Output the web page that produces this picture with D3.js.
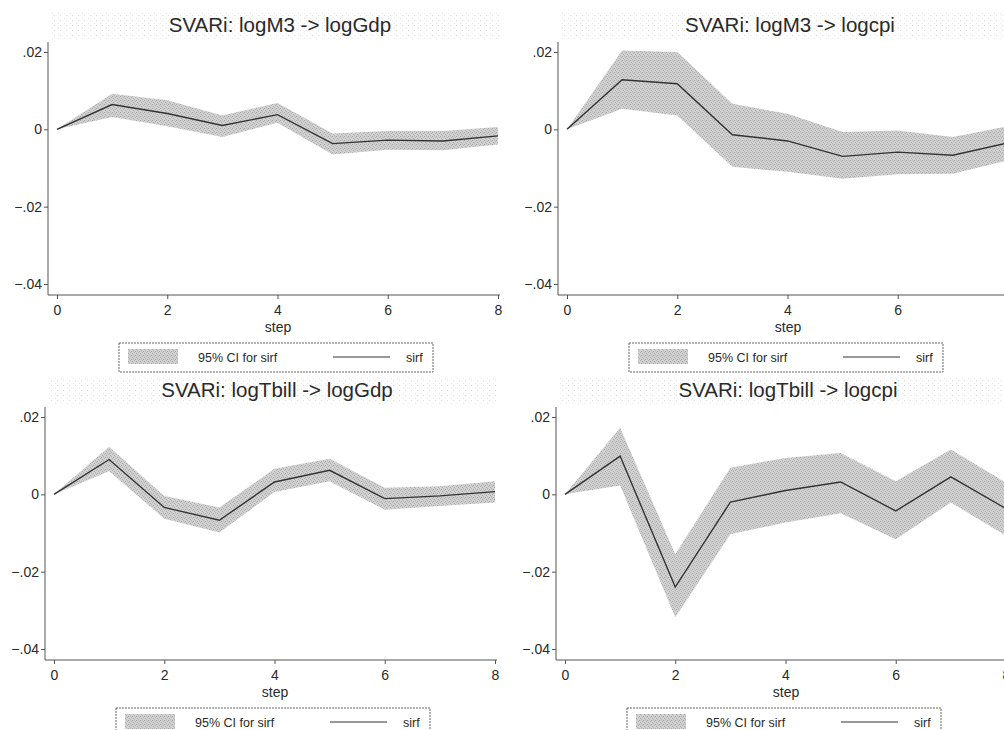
<!DOCTYPE html>
<html>
<head>
<meta charset="utf-8">
<script src="https://cdn.jsdelivr.net/npm/d3@7"></script>
<style>
  body { margin: 0; background: #fff; }
  text { font-family: "Liberation Sans", Arial, sans-serif; fill: #2a2a2a; }
</style>
</head>
<body>
<div id="chart"></div>
<script>
// irf data
const steps = [0, 1, 2, 3, 4, 5, 6, 7, 8];
const yTicks = [0.02, 0, -0.02, -0.04];
const xTicks = [0, 2, 4, 6, 8];
const titles = ["SVARi: logM3 -> logGdp", "SVARi: logM3 -> logcpi",
                "SVARi: logTbill -> logGdp", "SVARi: logTbill -> logcpi"];

const m3GdpIrf = [0, 0.0064, 0.0041, 0.0010, 0.0038, -0.0037, -0.0028, -0.0030, -0.0017];
const m3GdpLo  = [0, 0.0032, 0.0008, -0.0020, 0.0017, -0.0065, -0.0053, -0.0054, -0.0039];
const m3GdpHi  = [0, 0.0092, 0.0075, 0.0036, 0.0068, -0.0011, -0.0004, -0.0004, 0.0006];

const m3CpiIrf = [0, 0.0128, 0.0118, -0.0014, -0.0030, -0.0070, -0.0059, -0.0067, -0.0035];
const m3CpiLo  = [0, 0.0053, 0.0036, -0.0097, -0.0110, -0.0128, -0.0116, -0.0115, -0.0080];
const m3CpiHi  = [0, 0.0204, 0.0200, 0.0066, 0.0040, -0.0007, -0.0003, -0.0020, 0.0008];

const tbGdpIrf = [0, 0.0090, -0.0034, -0.0067, 0.0032, 0.0062, -0.0011, -0.0004, 0.0007];
const tbGdpLo  = [0, 0.0060, -0.0063, -0.0099, 0.0006, 0.0034, -0.0040, -0.0030, -0.0021];
const tbGdpHi  = [0, 0.0123, -0.0004, -0.0034, 0.0066, 0.0092, 0.0017, 0.0021, 0.0034];

const tbCpiIrf = [0, 0.0099, -0.0240, -0.0020, 0.0010, 0.0032, -0.0043, 0.0045, -0.0037];
const tbCpiLo  = [0, 0.0023, -0.0318, -0.0103, -0.0073, -0.0049, -0.0116, -0.0021, -0.0107];
const tbCpiHi  = [0, 0.0172, -0.0155, 0.0069, 0.0094, 0.0107, 0.0034, 0.0116, 0.0030];

const panels = [
  { ox: 0,   oy: 0,   title: titles[0], irf: m3GdpIrf, lo: m3GdpLo, hi: m3GdpHi },
  { ox: 510, oy: 0,   title: titles[1], irf: m3CpiIrf, lo: m3CpiLo, hi: m3CpiHi },
  { ox: -3,  oy: 365, title: titles[2], irf: tbGdpIrf, lo: tbGdpLo, hi: tbGdpHi },
  { ox: 508, oy: 365, title: titles[3], irf: tbCpiIrf, lo: tbCpiLo, hi: tbCpiHi }
];

const width = 1004, height = 730;

const svg = d3.select("#chart").append("svg")
  .attr("width", width)
  .attr("height", height)
  .style("display", "block");

svg.append("rect").attr("width", width).attr("height", height).attr("fill", "#fff");

// stipple patterns (scanned look)
const defs = svg.append("defs");
const band = defs.append("pattern").attr("id", "stip")
  .attr("width", 4).attr("height", 4).attr("patternUnits", "userSpaceOnUse");
band.append("rect").attr("width", 4).attr("height", 4).attr("fill", "#d2d2d2");
[[0, 0, "#a4a4a4"], [3, 1, "#b2b2b2"], [1, 2, "#aaaaaa"], [2, 3, "#b8b8b8"], [2, 0, "#c4c4c4"]]
  .forEach(d => band.append("rect").attr("x", d[0]).attr("y", d[1])
    .attr("width", 1).attr("height", 1).attr("fill", d[2]));

const faint = defs.append("pattern").attr("id", "faint")
  .attr("width", 6).attr("height", 5).attr("patternUnits", "userSpaceOnUse");
faint.append("rect").attr("width", 6).attr("height", 5).attr("fill", "#fff");
faint.append("rect").attr("width", 1).attr("height", 1).attr("fill", "#dedede");
faint.append("rect").attr("x", 4).attr("y", 3).attr("width", 1).attr("height", 1).attr("fill", "#e8e8e8");

panels.forEach(p => {
  const g = svg.append("g").attr("transform", `translate(${p.ox},${p.oy})`);

  const x = d3.scaleLinear().domain([0, 8]).range([57, 498]);
  const y = d3.scaleLinear().domain([-0.04, 0.02]).range([284, 52]);

  // title band + title
  g.append("rect").attr("x", 50).attr("y", 13).attr("width", 452).attr("height", 27)
    .attr("fill", "url(#faint)");
  g.append("text")
    .attr("x", 280).attr("y", 32)
    .attr("text-anchor", "middle")
    .style("font-size", "20.5px")
    .text(p.title);

  const rows = steps.map((s, i) => ({ s: s, irf: p.irf[i], lo: p.lo[i], hi: p.hi[i] }));

  // CI band
  g.append("path")
    .datum(rows)
    .attr("fill", "url(#stip)")
    .attr("d", d3.area().x(d => x(d.s)).y0(d => y(d.lo)).y1(d => y(d.hi)));

  // sirf line
  g.append("path")
    .datum(rows)
    .attr("fill", "none")
    .attr("stroke", "#333")
    .attr("stroke-width", 1.4)
    .attr("d", d3.line().x(d => x(d.s)).y(d => y(d.irf)));

  // y axis
  const yAxis = g.append("g")
    .attr("transform", "translate(48,0)")
    .call(d3.axisLeft(y).tickValues(yTicks).tickSize(4).tickPadding(2)
      .tickFormat(d => d === 0 ? "0" : d3.format(".2f")(d).replace("0.", ".")));
  yAxis.select(".domain").attr("d", "M0,42V295").attr("stroke", "#555");
  yAxis.selectAll(".tick line").attr("stroke", "#555");
  yAxis.selectAll(".tick text").style("font-size", "14px").attr("fill", "#2a2a2a");

  // x axis
  const xAxis = g.append("g")
    .attr("transform", "translate(0,295)")
    .call(d3.axisBottom(x).tickValues(xTicks).tickSize(4).tickPadding(6));
  xAxis.select(".domain").attr("d", "M48,0H500").attr("stroke", "#555");
  xAxis.selectAll(".tick line").attr("stroke", "#555");
  xAxis.selectAll(".tick text").style("font-size", "14px").attr("fill", "#2a2a2a");

  g.append("text")
    .attr("x", 278).attr("y", 332)
    .attr("text-anchor", "middle")
    .style("font-size", "14px")
    .text("step");

  // legend
  const lg = g.append("g").attr("transform", "translate(119,343)");
  lg.append("rect").attr("width", 314).attr("height", 29)
    .attr("fill", "#fff").attr("stroke", "#666").attr("stroke-dasharray", "2,1");
  lg.append("rect").attr("x", 9).attr("y", 6).attr("width", 50).attr("height", 15)
    .attr("fill", "url(#stip)");
  lg.append("text").attr("x", 79).attr("y", 19).style("font-size", "12.5px").text("95% CI for sirf");
  lg.append("line").attr("x1", 214).attr("x2", 271).attr("y1", 14).attr("y2", 14)
    .attr("stroke", "#333").attr("stroke-width", 1.2);
  lg.append("text").attr("x", 287).attr("y", 19).style("font-size", "12.5px").text("sirf");
});
</script>
</body>
</html>
